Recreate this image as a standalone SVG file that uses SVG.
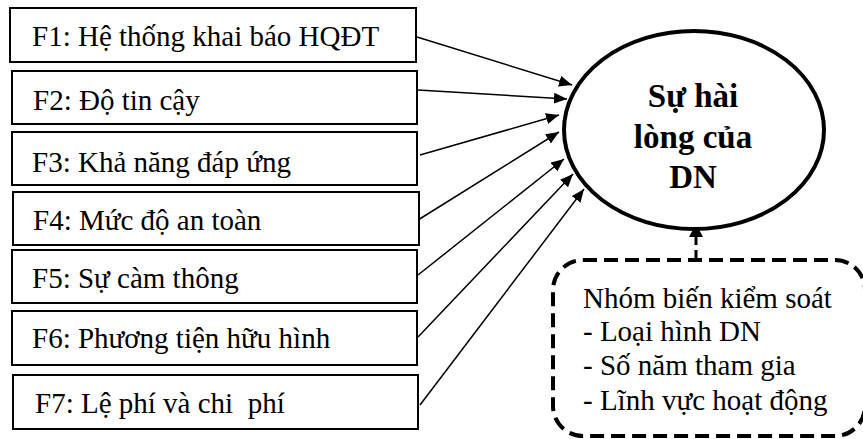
<svg xmlns="http://www.w3.org/2000/svg" width="863" height="439" viewBox="0 0 863 439">
  <defs>
    <marker id="head" markerUnits="userSpaceOnUse" markerWidth="14" markerHeight="12" refX="13" refY="5.5" orient="auto">
      <path d="M0,0 L13,5.5 L0,11 z" fill="#000"/>
    </marker>
  </defs>
  <rect width="863" height="439" fill="#fff"/>

  <g id="connectors" stroke="#000" stroke-width="1.5" fill="none">
    <line x1="417" y1="37" x2="572" y2="85" marker-end="url(#head)"/>
    <line x1="418" y1="90" x2="567" y2="99" marker-end="url(#head)"/>
    <line x1="420" y1="155" x2="559" y2="115" marker-end="url(#head)"/>
    <line x1="418" y1="220" x2="559" y2="132" marker-end="url(#head)"/>
    <line x1="418" y1="275" x2="564" y2="159" marker-end="url(#head)"/>
    <line x1="418" y1="337" x2="573" y2="174" marker-end="url(#head)"/>
    <line x1="420" y1="405" x2="584" y2="189" marker-end="url(#head)"/>
    <line x1="696" y1="258" x2="696" y2="236" stroke-width="3" stroke-dasharray="8 5"/>
    <path d="M689,237 L696,224 L703,237 z" fill="#000" stroke="none"/>
  </g>

  <g id="f1">
    <rect x="10" y="8" width="406" height="54" fill="#fff" stroke="#000" stroke-width="2"/>
    <text x="32" y="46" font-family="Tinos" font-size="29">F1: Hệ thống khai báo HQĐT</text>
  </g>
  <g id="f2">
    <rect x="12" y="71" width="405" height="53" fill="#fff" stroke="#000" stroke-width="2"/>
    <text x="33" y="110" font-family="Tinos" font-size="29">F2: Độ tin cậy</text>
  </g>
  <g id="f3">
    <rect x="12" y="132" width="405" height="53" fill="#fff" stroke="#000" stroke-width="2"/>
    <text x="32" y="172" font-family="Tinos" font-size="29">F3: Khả năng đáp ứng</text>
  </g>
  <g id="f4">
    <rect x="13" y="192" width="406" height="53" fill="#fff" stroke="#000" stroke-width="2"/>
    <text x="33" y="230" font-family="Tinos" font-size="29">F4: Mức độ an toàn</text>
  </g>
  <g id="f5">
    <rect x="12" y="250" width="405" height="53" fill="#fff" stroke="#000" stroke-width="2"/>
    <text x="32" y="288" font-family="Tinos" font-size="29">F5: Sự càm thông</text>
  </g>
  <g id="f6">
    <rect x="12" y="311" width="405" height="54" fill="#fff" stroke="#000" stroke-width="2"/>
    <text x="32" y="348" font-family="Tinos" font-size="29">F6: Phương tiện hữu hình</text>
  </g>
  <g id="f7">
    <rect x="13" y="375" width="405" height="54" fill="#fff" stroke="#000" stroke-width="2"/>
    <text x="35" y="413" font-family="Tinos" font-size="29" xml:space="preserve">F7: Lệ phí và chi  phí</text>
  </g>

  <g id="satisfaction">
    <ellipse cx="694" cy="130" rx="130" ry="99" fill="#fff" stroke="#000" stroke-width="4"/>
    <text x="693" y="107" font-family="Tinos" font-size="33" font-weight="bold" text-anchor="middle">Sự hài</text>
    <text x="693" y="148" font-family="Tinos" font-size="33" font-weight="bold" text-anchor="middle">lòng của</text>
    <text x="693" y="188" font-family="Tinos" font-size="33" font-weight="bold" text-anchor="middle">DN</text>
  </g>

  <g id="controls">
    <rect x="553" y="260" width="312" height="176" rx="30" ry="30" fill="#fff" stroke="#000" stroke-width="4" stroke-dasharray="14 7"/>
    <text x="583" y="308" font-family="Tinos" font-size="29">Nhóm biến kiểm soát</text>
    <text x="583" y="341" font-family="Tinos" font-size="29">- Loại hình DN</text>
    <text x="583" y="375" font-family="Tinos" font-size="29">- Số năm tham gia</text>
    <text x="583" y="410" font-family="Tinos" font-size="29">- Lĩnh vực hoạt động</text>
  </g>
</svg>
